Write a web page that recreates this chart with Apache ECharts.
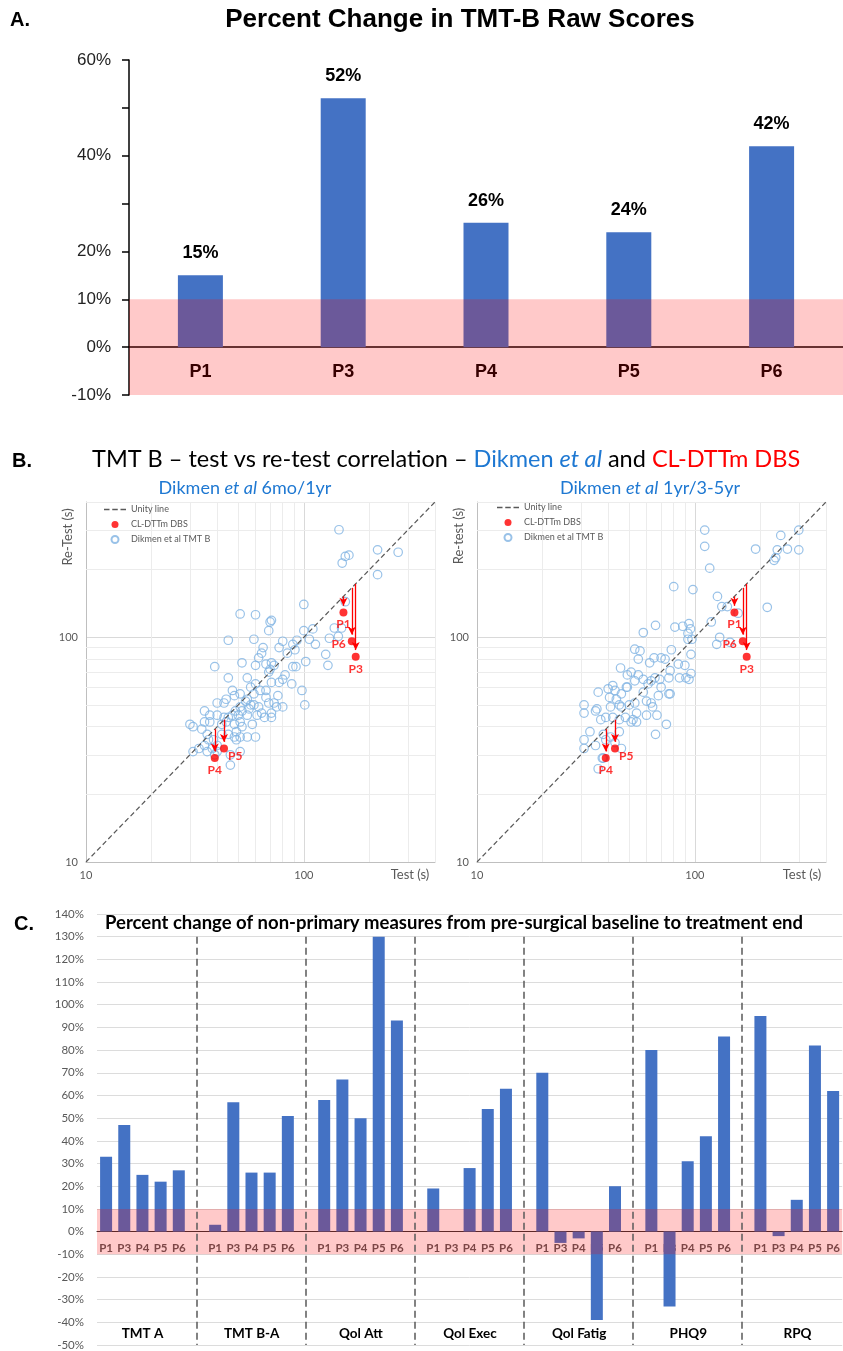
<!DOCTYPE html>
<html>
<head>
<meta charset="utf-8">
<script src="https://cdn.jsdelivr.net/npm/echarts@6/dist/echarts.min.js"></script>
<style>
  html, body { margin: 0; padding: 0; background: #fff; }
  #chart { width: 843px; height: 1351px; }
</style>
</head>
<body>
<div id="chart"></div>
<script>
// ---- data ----
const patients = ['P1', 'P3', 'P4', 'P5', 'P6'];

// A. percent change in TMT-B raw scores
const tmtbRawChange = [15, 52, 26, 24, 42];

// B. test / re-test (seconds)
const dbsTest = [152, 173, 39, 43, 166];
const dbsRetest = [129, 82, 29, 32, 96];
const dikmen6mo1yr = [
  [145,301],[150,214],[155,229],[161,232],[218,245],[271,239],[218,190],[155,144],[100,140],[51,127],
  [60,126],[71,119],[70,117],[69,107],[45,97],[59,98],[65,90],[100,107],[110,109],[106,98],
  [113,93],[138,110],[149,110],[131,99],[144,101],[126,84],[129,75],[102,78],[93,97],[89,93],
  [91,88],[80,96],[77,90],[84,85],[89,74],[92,74],[82,68],[80,65],[88,62],[98,58],
  [101,50],[39,74],[45,66],[52,77],[55,66],[60,75],[62,81],[64,85],[67,76],[69,70],
  [71,77],[73,75],[70,72],[77,63],[71,63],[67,58],[63,58],[60,62],[57,60],[59,56],
  [55,53],[51,56],[47,58],[48,55],[54,52],[59,50],[62,49],[67,54],[69,51],[73,51],
  [75,49],[80,49],[76,55],[61,45],[64,46],[71,46],[71,44],[66,44],[55,45],[52,47],
  [51,49],[50,45],[58,41],[52,40],[51,42],[48,41],[47,45],[45,44],[44,42],[43,44],
  [42,41],[40,51],[43,51],[44,53],[40,45],[37,45],[35,47],[37,42],[35,42],[34,39],
  [36,37],[30,41],[31,40],[36.5,35],[38.5,35],[40,33],[35,33],[33,32],[31,31],[36,31],
  [42,37],[45,37],[48,36],[49,35],[51,36],[55,36],[60,36],[51,31],[46,30],[46,27],
  [39,30],[40,31],[38,32],[49,38],[57,50],[56,48],[48.5,47]
];
const dikmen1yr35yr = [
  [111,300],[111,254],[117,203],[300,300],[248,284],[190,247],[239,245],[266,247],[300,245],[231,220],
  [235,226],[80,168],[98,163],[127,152],[133,137],[141,137],[215,136],[119,117],[158,128],[58,105],
  [66,113],[81,111],[88,112],[94,115],[95.5,109],[93,104],[97,98],[93,98],[126,93],[130,100],
  [145,95],[53,88.5],[56,87],[55,80],[62,77],[65,81],[70,81],[73,80],[78,88],[84,76],
  [90,75],[96,84],[96,69],[77,71],[85,66],[91,66],[94,65],[76,66],[69,65],[65.6,66],
  [63,64],[61,62],[58,65],[55,68],[53,64],[51,70],[49,68],[45.6,73],[48.5,60],[49,60],
  [46,56],[43,58],[42,61],[40,59],[36,57],[45,50],[41,49],[40.6,54],[43.6,53],[46,49],
  [50,50],[53,51],[58,57],[60,52],[63,51],[64,49],[68,55],[70,60],[76,56],[77,56],
  [67,45],[60,45],[54,46],[52,43],[51,42],[48,44],[45,43],[42,44],[39,44],[37,43],
  [35.5,48],[35,47],[31,50],[31,46],[33,38],[31,35],[31,32],[35,33],[38,37],[39,35],
  [45,38],[46,32],[41,36],[74,41],[66,37],[36,26],[38,29],[37.6,29],[43,34],[54,42]
];
const minorLogTicks = [20, 30, 40, 50, 60, 70, 80, 90, 200, 300, 400];

// C. percent change of non-primary measures
const measures = ['TMT A', 'TMT B-A', 'Qol Att', 'Qol Exec', 'Qol Fatig', 'PHQ9', 'RPQ'];
const tmtA = [33, 47, 25, 22, 27];
const tmtBA = [3, 57, 26, 26, 51];
const qolAtt = [58, 67, 50, 130, 93];
const qolExec = [19, 0, 28, 54, 63];
const qolFatig = [70, -5, -3, -39, 20];
const phq9 = [80, -33, 31, 42, 86];
const rpq = [95, -2, 14, 82, 62];

const noChangeBand = [-10, 10];

// ---- build panel C categories (5 patients per measure, one blank slot between) ----
const measureValues = [tmtA, tmtBA, qolAtt, qolExec, qolFatig, phq9, rpq];
const cCats = [], cVals = [], cGroupLabels = [], cSeparators = [];
measures.forEach((m, gi) => {
  patients.forEach((p, pi) => {
    cCats.push(p);
    cVals.push(measureValues[gi][pi]);
    cGroupLabels.push(pi === 2 ? m : '');
  });
  if (gi < measures.length - 1) {
    cSeparators.push(cCats.length);
    cCats.push('');
    cVals.push(null);
    cGroupLabels.push('');
  }
});

const blue = '#1e78d2';
const barBlue = '#4472c4';
const band = 'rgba(255,0,0,0.21)';
const grey = '#595959';
const cal = 'Lato';
const arial = 'Liberation Sans';

// pixel offsets that lift the category axes from the grid bottom onto the 0 line
const gridA = { left: 129, top: 60, width: 722, height: 335 };
const gridC = { left: 97, top: 914, width: 746, height: 432 };
const zeroLiftA = -gridA.height * 10 / 70;
const zeroLiftC = -gridC.height * 50 / 190;

const labelSide = { P1: 'bottom', P3: 'bottom', P4: 'bottom', P5: 'right', P6: 'left' };
const dashIcon = 'path://M0 0h5v1.3H0zM7.5 0h5v1.3H7.5zM15 0h5v1.3H15z';

function scatterSeries(g, dikmen) {
  return [
    {
      type: 'line', xAxisIndex: g, yAxisIndex: g, data: [], z: 1, silent: true,
      markLine: {
        silent: true, symbol: ['none', 'none'], label: { show: false }, z: 1,
        lineStyle: { color: '#ececec', type: 'solid', width: 1 },
        data: minorLogTicks.flatMap(v => [{ xAxis: v }, { yAxis: v }])
      }
    },
    {
      name: 'Unity line', type: 'line', xAxisIndex: g, yAxisIndex: g,
      data: [[10, 10], [400, 400]], symbol: 'none', showSymbol: false, z: 3,
      lineStyle: { color: grey, width: 1.2, type: [5, 3] },
      itemStyle: { color: grey }
    },
    {
      name: 'Dikmen et al TMT B', type: 'scatter', xAxisIndex: g, yAxisIndex: g,
      data: dikmen, symbolSize: 8.5, z: 2,
      itemStyle: { color: 'rgba(255,255,255,0)', borderColor: '#7fb3e2', borderWidth: 1.2 }
    },
    {
      name: 'CL-DTTm DBS', type: 'scatter', xAxisIndex: g, yAxisIndex: g, z: 4,
      symbolSize: 8, itemStyle: { color: '#ff0000' },
      data: patients.map((p, i) => ({
        value: [dbsTest[i], dbsRetest[i]],
        label: {
          show: true, formatter: p, position: labelSide[p],
          distance: p === 'P5' ? 1 : 2,
          offset: p === 'P5' ? [-1, 8] : (p === 'P6' ? [0, 3] : [0, 0])
        }
      })),
      label: { color: '#ff0000', fontWeight: 'bold', fontSize: 12, fontFamily: cal },
      markLine: {
        silent: true, symbol: ['none', 'arrow'], symbolSize: [6, 8],
        label: { show: false },
        lineStyle: { color: '#ff0000', width: 1.3, type: 'solid' },
        data: patients.map((p, i) => [
          { coord: [dbsTest[i], dbsTest[i]] },
          { coord: [dbsTest[i], dbsRetest[i] * 1.07] }
        ])
      }
    }
  ];
}

function logAxis(g, pos) {
  return {
    type: 'log', logBase: 10, gridIndex: g, min: 10, max: 400, position: pos,
    axisLine: { lineStyle: { color: '#bfbfbf' } },
    axisTick: { show: false },
    axisLabel: {
      color: grey, fontSize: 11, fontFamily: cal, margin: 8,
      formatter: v => (Math.round(v) === 10 || Math.round(v) === 100) ? String(Math.round(v)) : ''
    },
    splitLine: { lineStyle: { color: '#d9d9d9' } }
  };
}

const legendBase = {
  orient: 'vertical', itemGap: 6, itemWidth: 22, itemHeight: 7, selectedMode: false,
  data: [{ name: 'Unity line', icon: dashIcon }, 'CL-DTTm DBS', 'Dikmen et al TMT B'],
  textStyle: { fontSize: 9, color: grey, fontFamily: cal }, padding: 0
};

const richB = size => ({
  b: { color: blue, fontSize: size, fontFamily: cal, fontWeight: 'normal' },
  bi: { color: blue, fontSize: size, fontFamily: cal, fontStyle: 'italic', fontWeight: 'normal' },
  k: { color: '#000', fontSize: size, fontFamily: cal, fontWeight: 'normal' },
  r: { color: '#ff0000', fontSize: size, fontFamily: cal, fontWeight: 'normal' }
});

const option = {
  animation: false,
  backgroundColor: '#fff',
  title: [
    { text: 'A.', left: 10, top: 10, padding: 0, textStyle: { fontFamily: arial, fontWeight: 'bold', fontSize: 20, color: '#000' } },
    { text: 'Percent Change in TMT-B Raw Scores', left: 460, textAlign: 'center', top: 7, padding: 0,
      textStyle: { fontFamily: arial, fontWeight: 'bold', fontSize: 26, color: '#000' } },
    { text: 'B.', left: 12, top: 451, padding: 0, textStyle: { fontFamily: arial, fontWeight: 'bold', fontSize: 20, color: '#000' } },
    { text: '{k|TMT B – test vs re-test correlation – }{b|Dikmen }{bi|et al}{k| and }{r|CL-DTTm DBS}',
      left: 92, top: 447, padding: 0,
      textStyle: { fontFamily: cal, fontSize: 23.5, color: '#000', fontWeight: 'normal', rich: richB(23.5) } },
    { text: '{b|Dikmen }{bi|et al}{b| 6mo/1yr}', left: 245, textAlign: 'center', top: 479, padding: 0,
      textStyle: { fontSize: 18, fontFamily: cal, fontWeight: 'normal', rich: richB(18) } },
    { text: '{b|Dikmen }{bi|et al}{b| 1yr/3-5yr}', left: 650, textAlign: 'center', top: 479, padding: 0,
      textStyle: { fontSize: 18, fontFamily: cal, fontWeight: 'normal', rich: richB(18) } },
    { text: 'C.', left: 14, top: 914, padding: 0, textStyle: { fontFamily: arial, fontWeight: 'bold', fontSize: 20, color: '#000' } },
    { text: 'Percent change of non-primary measures from pre-surgical baseline to treatment end',
      left: 454, textAlign: 'center', top: 914, padding: 0,
      textStyle: { fontFamily: cal, fontWeight: 'bold', fontSize: 18.5, color: '#000' } }
  ],
  legend: [
    Object.assign({ left: 104, top: 505 }, legendBase),
    Object.assign({ left: 497, top: 503 }, legendBase)
  ],
  graphic: [
    { type: 'text', x: 68, y: 537, rotation: Math.PI / 2,
      style: { text: 'Re-Test (s)', font: '13px Lato', fill: grey, align: 'center', verticalAlign: 'middle' } },
    { type: 'text', x: 459, y: 536, rotation: Math.PI / 2,
      style: { text: 'Re-test (s)', font: '13px Lato', fill: grey, align: 'center', verticalAlign: 'middle' } },
    { type: 'text', x: 410, y: 875,
      style: { text: 'Test (s)', font: '13px Lato', fill: grey, align: 'center', verticalAlign: 'middle' } },
    { type: 'text', x: 802, y: 875,
      style: { text: 'Test (s)', font: '13px Lato', fill: grey, align: 'center', verticalAlign: 'middle' } }
  ],
  grid: [
    gridA,
    { left: 86, top: 502, width: 349, height: 360 },
    { left: 477, top: 502, width: 349, height: 360 },
    gridC,
    gridC
  ],
  xAxis: [
    {
      type: 'category', gridIndex: 0, data: patients, position: 'bottom', offset: zeroLiftA,
      axisLine: { onZero: false, lineStyle: { color: '#000', width: 1.5 } },
      axisTick: { show: false },
      axisLabel: { fontFamily: arial, fontWeight: 'bold', fontSize: 18, color: '#000', margin: 16 }
    },
    logAxis(1, 'bottom'),
    logAxis(2, 'bottom'),
    {
      type: 'category', gridIndex: 3, data: cCats, position: 'bottom', offset: zeroLiftC,
      axisLine: { onZero: false, lineStyle: { color: '#333', width: 1.2 } },
      axisTick: { show: false },
      axisLabel: { interval: 0, fontFamily: cal, fontWeight: 'bold', fontSize: 11.5, color: grey, margin: 11 }
    },
    {
      type: 'category', gridIndex: 4, data: cGroupLabels, position: 'bottom',
      axisLine: { show: false, onZero: false }, axisTick: { show: false },
      axisLabel: { interval: 0, inside: true, margin: 5, fontFamily: cal, fontWeight: 'bold', fontSize: 13.5, color: '#000' }
    }
  ],
  yAxis: [
    {
      type: 'value', gridIndex: 0, min: -10, max: 60, interval: 10,
      axisLine: { show: true, lineStyle: { color: '#000', width: 1.5 } },
      axisTick: { show: true, length: 7, lineStyle: { color: '#000', width: 1.5 } },
      splitLine: { show: false },
      axisLabel: { fontFamily: arial, fontSize: 17, color: '#222', margin: 18,
        formatter: v => (v === 50 || v === 30) ? '' : v + '%' }
    },
    logAxis(1, 'left'),
    logAxis(2, 'left'),
    {
      type: 'value', gridIndex: 3, min: -50, max: 140, interval: 10,
      axisLine: { show: false }, axisTick: { show: false },
      splitLine: { lineStyle: { color: '#dcdcdc' } },
      axisLabel: { fontFamily: cal, fontSize: 11.5, color: grey, margin: 13, formatter: '{value}%' }
    },
    {
      type: 'value', gridIndex: 4, min: -50, max: 140, interval: 10, show: false
    }
  ],
  series: [
    {
      type: 'bar', xAxisIndex: 0, yAxisIndex: 0, data: tmtbRawChange, barWidth: 45,
      itemStyle: { color: barBlue },
      label: { show: true, position: 'top', distance: 13, formatter: '{c}%',
        fontFamily: arial, fontWeight: 'bold', fontSize: 18, color: '#000' }
    },
    {
      type: 'line', xAxisIndex: 0, yAxisIndex: 0, data: [], z: 10, silent: true,
      markArea: { silent: true, z: 10, itemStyle: { color: band },
        data: [[{ yAxis: noChangeBand[0] }, { yAxis: noChangeBand[1] }]] }
    },
    ...scatterSeries(1, dikmen6mo1yr),
    ...scatterSeries(2, dikmen1yr35yr),
    {
      type: 'bar', xAxisIndex: 3, yAxisIndex: 3, data: cVals, barWidth: 12,
      itemStyle: { color: barBlue }
    },
    {
      type: 'line', xAxisIndex: 3, yAxisIndex: 3, data: [], z: 10, silent: true,
      markArea: { silent: true, z: 10, itemStyle: { color: band },
        data: [[{ yAxis: noChangeBand[0] }, { yAxis: noChangeBand[1] }]] },
      markLine: {
        silent: true, z: 11, symbol: ['none', 'none'], label: { show: false },
        lineStyle: { color: grey, width: 1.5, type: [7, 4] },
        data: cSeparators.map(i => [{ coord: [i, 130] }, { coord: [i, -50] }])
      }
    }
  ]
};

const chart = echarts.init(document.getElementById('chart'));
chart.setOption(option);
</script>
</body>
</html>
